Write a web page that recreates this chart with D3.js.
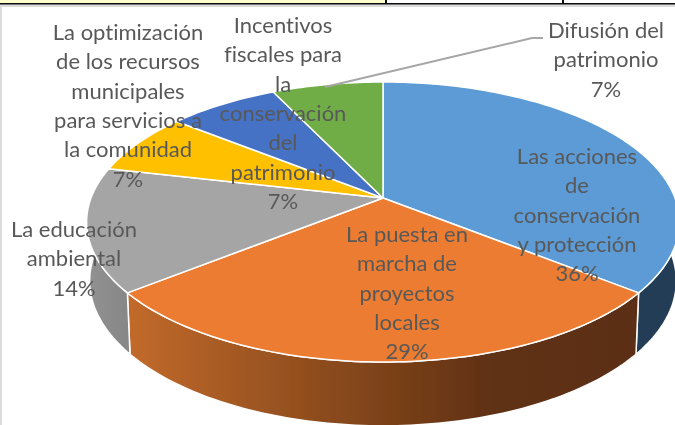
<!DOCTYPE html>
<html>
<head>
<meta charset="utf-8">
<script src="https://cdn.jsdelivr.net/npm/d3@7"></script>
<style>
html,body{margin:0;padding:0;background:#fff;}
svg{display:block;}
text{font-family:Lato,"Open Sans",sans-serif;font-size:22px;fill:#595959;text-anchor:middle;font-variant-ligatures:none;}
</style>
</head>
<body>
<svg id="chart" width="675" height="425"></svg>
<script>
var categories = ["Las acciones de conservación y protección","La puesta en marcha de proyectos locales","La educación ambiental","La optimización de los recursos municipales para servicios a la comunidad","Incentivos fiscales para la conservación del patrimonio","Difusión del patrimonio"];
var values = [5,4,2,1,1,1];
var percentLabels = ["36%","29%","14%","7%","7%","7%"];
var colors = ["#5B9BD5","#EB7C30","#A5A5A5","#FFC000","#4472C4","#70AD47"];

// how each label wraps, and where its first line sits
var labelLines = [
	["Las acciones","de","conservación","y protección"],
	["La puesta en","marcha de","proyectos","locales"],
	["La educación","ambiental"],
	["La optimización","de los recursos","municipales","para servicios a","la comunidad"],
	["Incentivos","fiscales para","la","conservación","del","patrimonio"],
	["Difusión del","patrimonio"]
];
var labelX = [577,407,74,128,283,606];
var labelY = [164,242,237,40,33,38];
var lineStep = 29.3;

var svg = d3.select("#chart");
var defs = svg.append("defs");

// the source is a slightly soft screenshot
defs.append("filter").attr("id","soft").append("feGaussianBlur").attr("stdDeviation",0.45);
var root = svg.append("g").attr("filter","url(#soft)");

// the pie is seen in perspective, so the rim is a projected circle
var persp = -0.1714;
var cx = 383;
var topRim = {r:292, y0:198, a:135.9};
var lowRim = {r:289, y0:256, a:140.7};

function project(rim, angle){
	var u = Math.sin(angle), v = -Math.cos(angle), w = 1 + persp * v;
	return [cx + rim.r * u / w, rim.y0 + rim.a * v / w];
}

var pie = d3.pie().sort(null).startAngle(0).endAngle(2 * Math.PI);
var arcs = pie(values);
var line = d3.line();

function rimAngles(a0, a1){
	var n = Math.max(2, Math.ceil((a1 - a0) / 0.02));
	return d3.range(n + 1).map(function(i){ return a0 + (a1 - a0) * i / n; });
}

// frame left over from the table above the chart
root.append("rect").attr("x",0).attr("y",4).attr("width",675).attr("height",3).attr("fill","#dcdcdc");
root.append("rect").attr("x",0).attr("y",4).attr("width",2).attr("height",421).attr("fill","#dcdcdc");
root.append("rect").attr("x",0).attr("y",0).attr("width",385).attr("height",3).attr("fill","#ffffcc");
root.append("rect").attr("x",0).attr("y",3).attr("width",675).attr("height",1.5).attr("fill","#111");
root.append("rect").attr("x",385).attr("y",0).attr("width",2).attr("height",4).attr("fill","#111");
root.append("rect").attr("x",562).attr("y",0).attr("width",2).attr("height",4).attr("fill","#111");

var sideGrad = defs.append("linearGradient").attr("id","orangeSide")
	.attr("gradientUnits","userSpaceOnUse").attr("x1",127).attr("x2",640).attr("y1",0).attr("y2",0);
sideGrad.selectAll("stop").data([[0,"#c26a2b"],[0.4,"#8a4a1c"],[0.72,"#5f3013"],[1,"#5c2f12"]]).enter().append("stop")
	.attr("offset",function(d){return d[0];}).attr("stop-color",function(d){return d[1];});

var grayGrad = defs.append("linearGradient").attr("id","graySide")
	.attr("gradientUnits","userSpaceOnUse").attr("x1",87).attr("x2",135).attr("y1",0).attr("y2",0);
grayGrad.selectAll("stop").data([[0,"#929292"],[1,"#858585"]]).enter().append("stop")
	.attr("offset",function(d){return d[0];}).attr("stop-color",function(d){return d[1];});

// walls: only the slices facing the viewer, clipped to the front half
var sideFill = ["#213c54","url(#orangeSide)","url(#graySide)"];
var walls = root.append("g");
arcs.slice(0,3).forEach(function(d,i){
	var a0 = Math.max(d.startAngle, Math.PI / 2 - 0.2);
	var a1 = Math.min(d.endAngle, 3 * Math.PI / 2 + 0.2);
	var ang = rimAngles(a0, a1);
	var pts = ang.map(function(a){ return project(topRim,a); })
		.concat(ang.slice().reverse().map(function(a){ return project(lowRim,a); }));
	walls.append("path").attr("d", line(pts) + "Z")
		.attr("fill", sideFill[i]).attr("stroke","#fff").attr("stroke-width",1.5).attr("stroke-linejoin","round");
});

// top face
root.append("g").selectAll("path").data(arcs).enter().append("path")
	.attr("d", function(d){
		var pts = [[cx, topRim.y0]].concat(rimAngles(d.startAngle,d.endAngle).map(function(a){ return project(topRim,a); }));
		return line(pts) + "Z";
	})
	.attr("fill", function(d,i){ return colors[i]; })
	.attr("stroke","#fff").attr("stroke-width",1.5).attr("stroke-linejoin","round");

// leader line for the outside label
root.append("path").attr("d", line([[325,87],[532,38],[543,38]]))
	.attr("fill","none").attr("stroke","#a6a6a6").attr("stroke-width",2);

var labels = root.append("g").selectAll("text").data(categories).enter().append("text")
	.attr("transform", function(d,i){ return "translate(" + labelX[i] + "," + labelY[i] + ")"; });
labels.selectAll("tspan")
	.data(function(d,i){ return labelLines[i].concat([percentLabels[i]]); })
	.enter().append("tspan")
	.attr("x",0)
	.attr("y",function(d,j){ return j * lineStep; })
	.text(function(d){ return d; });
</script>
</body>
</html>
